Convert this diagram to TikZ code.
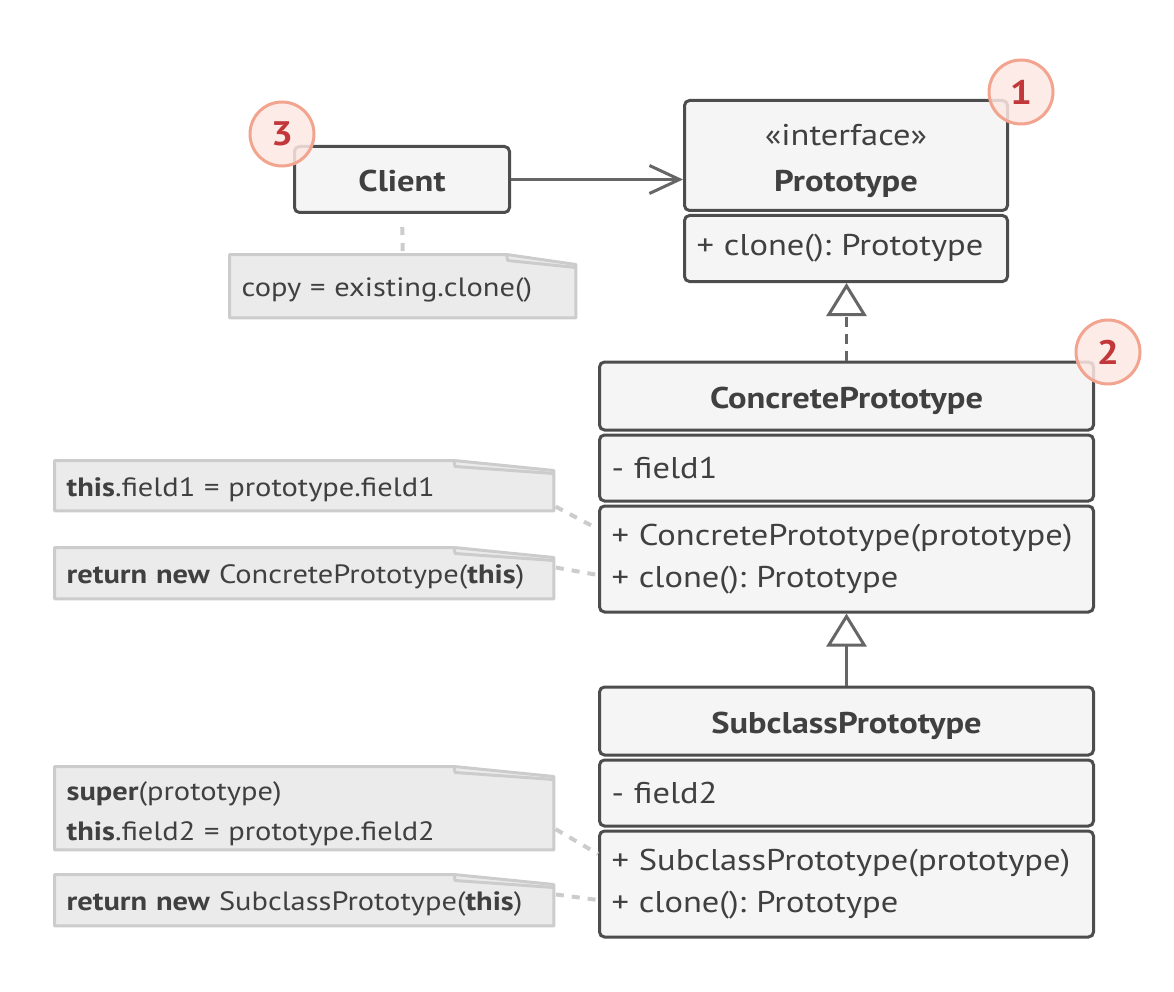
\documentclass[tikz,border=0pt]{standalone}
\usepackage{fontspec}
\setmainfont[FakeStretch=1.15]{PT Sans}
\usetikzlibrary{positioning,calc,arrows.meta}
\definecolor{boxline}{HTML}{4D4D4D}
\definecolor{boxfill}{HTML}{F5F5F5}
\definecolor{textgray}{HTML}{404040}
\definecolor{notefill}{HTML}{EBEBEB}
\definecolor{noteline}{HTML}{CCCCCC}
\definecolor{arrowgray}{HTML}{666666}
\definecolor{badgefill}{HTML}{FBE7E2}
\definecolor{badgeline}{HTML}{F2A48F}
\definecolor{badgetext}{HTML}{C2373A}
\pgfdeclarelayer{bg}
\pgfsetlayers{bg,main}
\frenchspacing

\begin{document}
\begin{tikzpicture}[x=1pt, y=-1pt,
  cls/.style={rectangle, rounded corners=5pt, draw=boxline, fill=boxfill, line width=3pt, text=textgray, minimum width=494pt, text width=470pt, inner sep=12pt, align=left, font=\fontsize{30}{42}\selectfont},
  oneline/.style={text height=24pt, text depth=0pt},
  note/.style={rectangle, text=textgray, minimum width=499pt, text width=475pt, inner xsep=12pt, inner ysep=4pt, align=left, anchor=north west, font=\fontsize{26.5}{40}\selectfont},
  notetext/.style={text height=21.5pt, text depth=0pt},
  notebox/.style={draw=noteline, fill=notefill, line width=3pt, line join=round},
  noteedge/.style={draw=noteline, line width=4pt, dash pattern=on 8pt off 8pt, shorten <=2pt},
  assoc/.style={draw=arrowgray, line width=3pt, -{Straight Barb[length=30pt, width=28pt]}},
  inherit/.style={draw=arrowgray, line width=3pt, -{Triangle[length=33pt, width=40pt, fill=white]}},
  realize/.style={inherit, dash pattern=on 10pt off 7pt},
  badge/.style={circle, minimum size=64pt, inner sep=0pt, draw=badgeline, line width=3pt, fill=badgefill, fill opacity=0.85, text opacity=1, text=badgetext, font=\fontsize{34}{34}\selectfont\bfseries}]

\useasboundingbox (0,0) rectangle (1174,992);

%%% CLIENT
\node [cls, oneline, minimum width=215pt, text width=191pt, minimum height=66pt, align=center, font=\fontsize{30}{42}\selectfont\bfseries] (client) at (402,179.5) {Client};
\node [note, notetext, minimum width=346pt, text width=322pt, minimum height=63pt] (copynote) at (229.5,254.5) {copy = existing.clone()};

%%% PROTOTYPE
\node [cls, minimum width=323pt, text width=299pt, minimum height=110pt, align=center] (proto-head) at (846,155.5) {\rule{0pt}{31.6pt}«interface»\\[4pt] \textbf{Prototype}};
\node [cls, minimum width=323pt, text width=299pt, minimum height=66pt, anchor=north] (proto-ops) at ([yshift=-2pt]proto-head.south) {+ clone(): Prototype};

%%% CONCRETE PROTOTYPE
\node [cls, oneline, minimum height=68pt, align=center] (concrete-head) at (846.5,396) {\textbf{ConcretePrototype}};
\node [cls, minimum height=66pt, anchor=north] (concrete-fields) at ([yshift=-2pt]concrete-head.south) {- field1};
\node [cls, minimum height=106pt, anchor=north] (concrete-ops) at ([yshift=-2pt]concrete-fields.south) {+ ConcretePrototype(prototype)\\ + clone(): Prototype};

\node [note, notetext, minimum height=50pt] (thisnote) at (54.5,460.5) {\textbf{this}.field1 = prototype.field1};
\node [note, notetext, minimum height=51pt] (returnnote) at (54.5,547.5) {\textbf{return new} ConcretePrototype(\textbf{this})};

%%% SUBCLASS PROTOTYPE
\node [cls, oneline, minimum height=68pt, align=center] (sub-head) at (846.5,721) {\textbf{SubclassPrototype}};
\node [cls, minimum height=66pt, anchor=north] (sub-fields) at ([yshift=-2pt]sub-head.south) {- field2};
\node [cls, minimum height=106pt, anchor=north] (sub-ops) at ([yshift=-2pt]sub-fields.south) {+ SubclassPrototype(prototype)\\ + clone(): Prototype};

\node [note, minimum height=82pt] (supernote) at (54.5,766.5) {\rule{0pt}{29.5pt}\textbf{super}(prototype)\\ \textbf{this}.field2 = prototype.field2};
\node [note, notetext, minimum height=51pt] (returnsubnote) at (54.5,874.5) {\textbf{return new} SubclassPrototype(\textbf{this})};

%%% note sheets with folded corner
\begin{pgfonlayer}{bg}
\foreach \n in {copynote,thisnote,returnnote,supernote,returnsubnote} {
  \draw [notebox] (\n.north west) -- ($(\n.north west)!0.8!(\n.north east)$) -- ([yshift=-10pt]\n.north east) -- (\n.south east) -- (\n.south west) -- cycle;
  \draw [notebox, fill=none] ($(\n.north west)!0.8!(\n.north east)$) -- ++(1,6) -- ([yshift=-13pt]\n.north east);
}
\end{pgfonlayer}

%%% connections, arrows
\draw [assoc] (client.east) -- (client.east -| proto-head.west);
\draw [realize] (concrete-head.north) -- (concrete-head.north |- proto-ops.south);
\draw [inherit] (sub-head.north) -- (sub-head.north |- concrete-ops.south);

\draw [noteedge, shorten <=13pt] (client.south) -- (copynote.north);
\draw [noteedge] ([yshift=-20pt]thisnote.east) -- ([yshift=30pt]concrete-ops.west);
\draw [noteedge] ([yshift=6pt]returnnote.east) -- ([yshift=-16pt]concrete-ops.west);
\draw [noteedge] ([yshift=-20pt]supernote.east) -- ([yshift=30pt]sub-ops.west);
\draw [noteedge] ([yshift=6pt]returnsubnote.east) -- ([yshift=-16pt]sub-ops.west);

%%% numbers
\node [badge] (badge1) at (1021,92) {1};
\node [badge] (badge2) at (1108,352) {2};
\node [badge] (badge3) at (282,134) {3};

\end{tikzpicture}
\end{document}
